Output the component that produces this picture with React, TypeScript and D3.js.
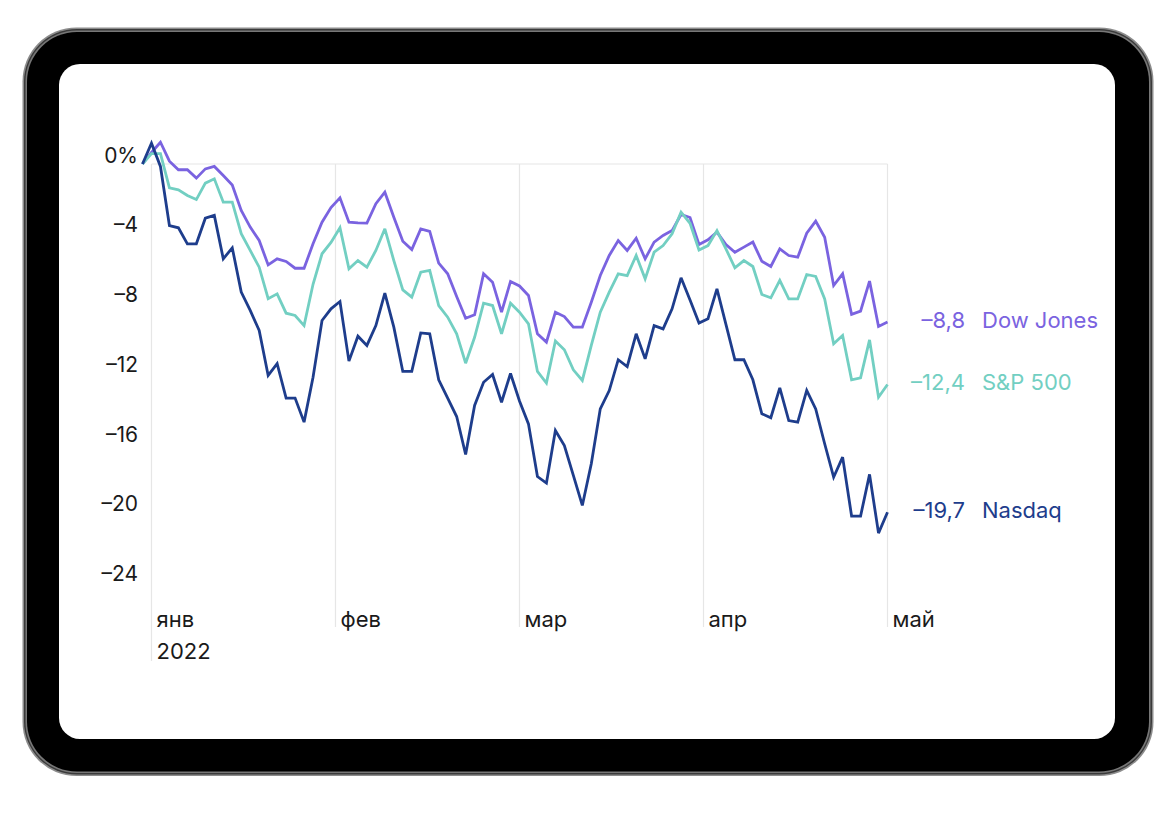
import * as d3 from 'd3';

// Cumulative change since 31 Dec 2021, %, one point per trading day (to 2 May 2022)
const DOW = [
  0, 0.66, 1.25, 0.16, -0.33, -0.33, -0.81, -0.28, -0.14, -0.66, -1.2,
  -2.67, -3.62, -4.39, -5.79, -5.44, -5.59, -5.98, -5.98, -4.58, -3.34,
  -2.5, -1.94, -3.34, -3.38, -3.39, -2.28, -1.62, -3.05, -4.43, -4.91,
  -3.72, -3.87, -5.69, -6.3, -7.6, -8.85, -8.65, -6.3, -6.78, -8.5,
  -6.74, -7.0, -7.54, -9.74, -10.22, -8.5, -8.75, -9.36, -9.36, -7.93,
  -6.4, -5.25, -4.39, -4.96, -4.26, -5.44, -4.48, -4.1, -3.82, -2.9,
  -3.07, -4.62, -4.35, -3.91, -4.62, -5.06, -4.77, -4.48, -5.58, -5.88,
  -4.87, -5.25, -5.35, -3.97, -3.28, -4.2, -6.97, -6.3, -8.63, -8.44,
  -6.72, -9.32, -9.07,
];
const SP500 = [
  0, 0.6, 0.6, -1.37, -1.48, -1.81, -2.04, -1.1, -0.85, -2.19, -2.19,
  -4.0, -4.96, -5.92, -7.73, -7.45, -8.56, -8.69, -9.27, -6.9, -5.15,
  -4.5, -3.66, -6.01, -5.54, -5.92, -4.96, -3.72, -5.54, -7.22, -7.64,
  -6.21, -6.11, -8.12, -8.79, -9.74, -11.43, -9.94, -7.99, -8.12, -9.74,
  -7.99, -8.5, -9.17, -11.9, -12.57, -10.16, -10.66, -11.81, -12.42, -10.41,
  -8.5, -7.35, -6.3, -6.4, -5.25, -6.59, -5.06, -4.68, -4.01, -2.76,
  -3.4, -4.94, -4.68, -3.82, -4.87, -5.96, -5.54, -5.88, -7.49, -7.68,
  -6.68, -7.74, -7.74, -6.34, -6.45, -7.74, -10.32, -9.84, -12.38, -12.27,
  -10.09, -13.38, -12.65,
];
const NASDAQ = [
  0, 1.19, -0.14, -3.53, -3.66, -4.58, -4.58, -3.11, -2.95, -5.44, -4.81,
  -7.35, -8.4, -9.55, -12.13, -11.46, -13.43, -13.43, -14.81, -12.23, -8.98,
  -8.31, -7.89, -11.31, -9.88, -10.41, -9.27, -7.41, -9.36, -11.9, -11.9,
  -9.69, -9.74, -12.38, -13.43, -14.49, -16.67, -13.85, -12.52, -12.08, -13.67,
  -12.02, -13.6, -14.91, -17.93, -18.31, -15.29, -16.15, -17.87, -19.59, -17.2,
  -14.05, -13.0, -11.23, -11.62, -9.74, -11.18, -9.27, -9.46, -8.31, -6.53,
  -7.8, -9.13, -8.88, -7.16, -9.2, -11.23, -11.23, -12.38, -14.33, -14.56,
  -12.84, -14.72, -14.81, -12.99, -14.05, -16.05, -17.97, -16.82, -20.2, -20.2,
  -17.81, -21.18, -19.98,
];

const Y_TICKS = [0, -4, -8, -12, -16, -20, -24];
const MONTHS = ['янв', 'фев', 'мар', 'апр', 'май'];
const MONTH_AT = [1, 21.5, 42, 62.5, 83]; // position in trading-day index
const YEAR_LABEL = '2022';

const SERIES = [
  { name: 'Dow Jones', values: DOW, label: '–8,8', color: '#7a63e0' },
  { name: 'S&P 500', values: SP500, label: '–12,4', color: '#72cfc2' },
  { name: 'Nasdaq', values: NASDAQ, label: '–19,7', color: '#1e3d8c' },
];

const W = 1176, H = 822;
const FONT = 'Inter, "Noto Sans", sans-serif';

export default function App() {
  const n = DOW.length;
  const x = d3.scaleLinear().domain([0, n - 1]).range([142.5, 887.5]);
  const y = d3.scaleLinear().domain([0, -24]).range([164, 582.3]);
  const gridBottom = 627;

  const line = d3.line<number>()
    .x((_, i) => x(i))
    .y((d) => y(d));

  const fmtTick = (v: number) => (v === 0 ? '0%' : '–' + Math.abs(v));

  return (
    <div style={{ position: 'fixed', left: 0, top: 0, width: W, height: H, background: '#fff' }}>
      <svg width={W} height={H} viewBox={`0 0 ${W} ${H}`} style={{ display: 'block' }}>
        {/* tablet frame */}
        <rect x={22.5} y={27.5} width={1131} height={748.5} rx={54} fill="#8c8c8c" />
        <rect x={24} y={29} width={1128} height={745.5} rx={53} fill="#3a3a3a" />
        <rect x={25.5} y={30.5} width={1125} height={742.5} rx={51} fill="#777" />
        <rect x={27} y={32} width={1122} height={739.5} rx={50} fill="#000" />
        <rect x={59} y={64} width={1056} height={675} rx={21} fill="#fff" />

        <g fontFamily={FONT} fontSize={22}>
          {/* vertical month grid */}
          {MONTH_AT.map((m, i) => (
            <line key={'v' + i} x1={x(m)} x2={x(m)} y1={y(0)} y2={i === 0 ? gridBottom + 34 : gridBottom}
              stroke="#e6e6e6" strokeWidth={1.2} />
          ))}
          {/* zero line */}
          <line x1={x(MONTH_AT[0])} x2={x(MONTH_AT[MONTH_AT.length - 1])} y1={y(0)} y2={y(0)}
            stroke="#e6e6e6" strokeWidth={1.2} />

          {/* y tick labels */}
          {Y_TICKS.map((t) => (
            <text key={t} x={138} y={y(t) - 7} textAnchor="end" dominantBaseline="middle" fill="#1a1a1a" fontSize={21}>
              {fmtTick(t)}
            </text>
          ))}

          {/* month labels */}
          {MONTHS.map((m, i) => (
            <text key={m} x={x(MONTH_AT[i]) + 5} y={627} fill="#1a1a1a">{m}</text>
          ))}
          <text x={x(MONTH_AT[0]) + 5} y={659} fill="#1a1a1a">{YEAR_LABEL}</text>

          {/* series */}
          {SERIES.map((s) => (
            <path key={s.name} d={line(s.values) ?? ''} fill="none" stroke={s.color}
              strokeWidth={2.8} strokeLinejoin="miter" strokeMiterlimit={3} />
          ))}

          {/* end labels */}
          {SERIES.map((s) => {
            const yy = y(s.values[s.values.length - 1]);
            return (
              <g key={'l' + s.name} fill={s.color}>
                <text x={965} y={yy} textAnchor="end" dominantBaseline="middle">{s.label}</text>
                <text x={982} y={yy} dominantBaseline="middle">{s.name}</text>
              </g>
            );
          })}
        </g>
      </svg>
    </div>
  );
}
